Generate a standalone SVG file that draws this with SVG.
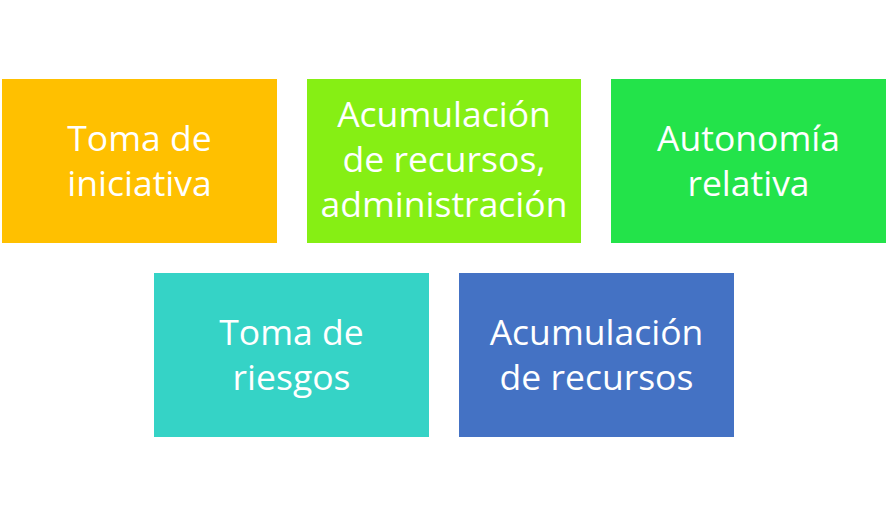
<svg xmlns="http://www.w3.org/2000/svg" width="888" height="517" viewBox="0 0 888 517">
<style>
text{font-family:"Open Sans","Liberation Sans",sans-serif;font-size:35.5px;fill:#fff;text-anchor:middle}
</style>
<rect width="888" height="517" fill="#fff"/>
<g id="n1"><rect x="2" y="79" width="275" height="164" fill="#FFC000"/><text x="139.5" y="151">Toma de</text><text x="139.5" y="196">iniciativa</text></g>
<g id="n2"><rect x="307" y="79" width="274" height="164" fill="#86EF14"/><text x="444" y="127">Acumulación</text><text x="444" y="172">de recursos,</text><text x="444" y="217">administración</text></g>
<g id="n3"><rect x="611" y="79" width="275" height="164" fill="#23E34A"/><text x="748.5" y="151">Autonomía</text><text x="748.5" y="196">relativa</text></g>
<g id="n4"><rect x="154" y="273" width="275" height="164" fill="#35D3C6"/><text x="291.5" y="345">Toma de</text><text x="291.5" y="390">riesgos</text></g>
<g id="n5"><rect x="459" y="273" width="275" height="164" fill="#4472C4"/><text x="596.5" y="345">Acumulación</text><text x="596.5" y="390">de recursos</text></g>
<g id="connectors"/>
</svg>
